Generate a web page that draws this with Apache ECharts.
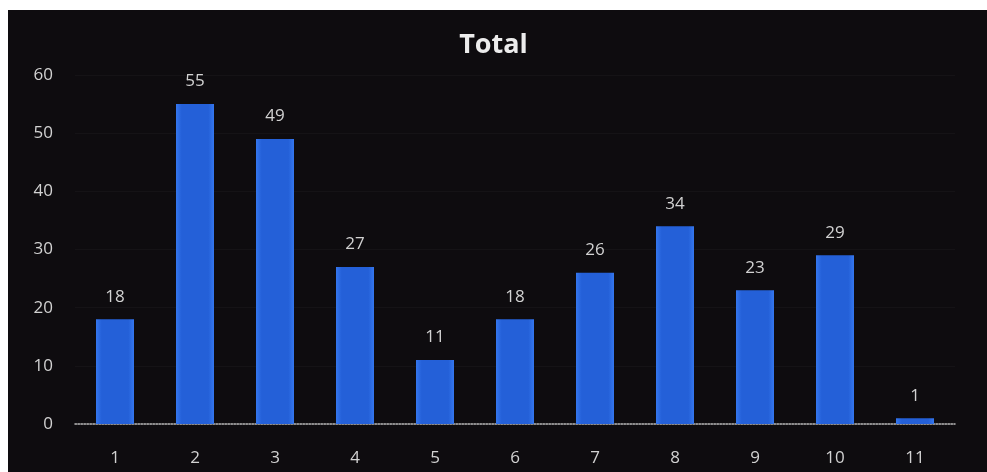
<!DOCTYPE html>
<html><head><meta charset="utf-8">
<script src="https://cdn.jsdelivr.net/npm/echarts@6/dist/echarts.min.js"></script>
<style>html,body{margin:0;padding:0;background:#fff}#c{width:987px;height:472px}</style>
</head><body><div id="c"></div>
<script>
const categories = ['1','2','3','4','5','6','7','8','9','10','11'];
const totals = [18,55,49,27,11,18,26,34,23,29,1];
const chart = echarts.init(document.getElementById('c'));
chart.setOption({
  animation:false,
  backgroundColor:'#ffffff',
  graphic:[{type:'rect',z:-10,shape:{x:8,y:10,width:979,height:462},style:{fill:'#0e0c0f'}}],
  title:{text:'Total',left:'center',top:27,textStyle:{color:'#ececec',fontSize:27,fontWeight:'bold',fontFamily:'Open Sans'}},
  grid:{left:75,right:32,top:75,bottom:48},
  xAxis:{type:'category',data:categories,
    axisLine:{lineStyle:{color:'#bbbbbb',type:'dotted',width:1.5}},
    axisTick:{show:false},
    axisLabel:{color:'#d2d2d2',fontSize:17,margin:26,fontFamily:'Open Sans'}},
  yAxis:{type:'value',min:0,max:60,interval:10,
    axisLabel:{color:'#d2d2d2',fontSize:17,margin:22,fontFamily:'Open Sans'},
    splitLine:{lineStyle:{color:'rgba(255,255,255,0.03)'}}},
  series:[{type:'bar',data:totals,barWidth:38,
    itemStyle:{color:new echarts.graphic.LinearGradient(0,0,1,0,[
      {offset:0,color:'#3577ee'},{offset:0.15,color:'#2460d8'},{offset:0.85,color:'#2460d8'},{offset:1,color:'#3577ee'}])},
    label:{show:true,position:'top',distance:14,color:'#d2d2d2',fontSize:17,fontFamily:'Open Sans'}}]
});
</script></body></html>
